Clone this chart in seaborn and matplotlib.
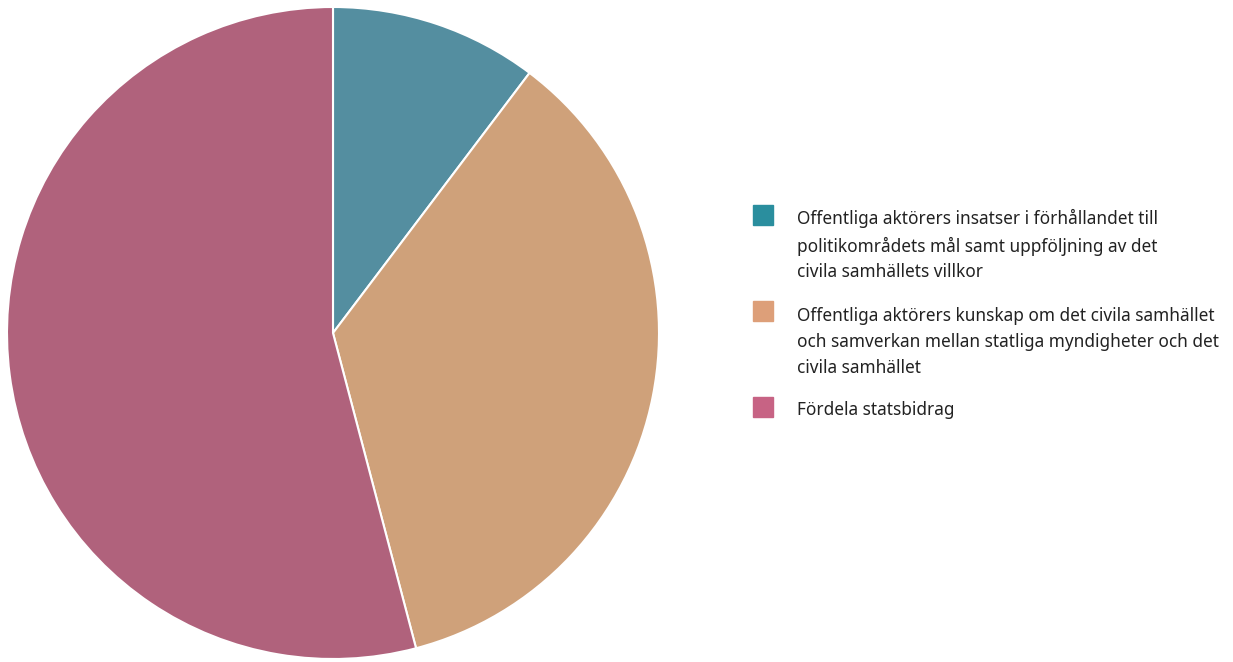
import matplotlib
matplotlib.use("Agg")
import matplotlib.pyplot as plt
import seaborn as sns
from matplotlib.patches import Rectangle

# data
labels = [
    "Offentliga aktörers insatser i förhållandet till\npolitikområdets mål samt uppföljning av det\ncivila samhällets villkor",
    "Offentliga aktörers kunskap om det civila samhället\noch samverkan mellan statliga myndigheter och det\ncivila samhället",
    "Fördela statsbidrag",
]
values = [10.3, 35.6, 54.1]
slice_colors = ["#548ea0", "#cfa17a", "#b0627c"]
legend_colors = ["#2a8e9e", "#dd9f79", "#c76384"]

sns.set_theme(style="white")
plt.rcParams['font.family'] = ['Noto Sans', 'DejaVu Sans']

W, H = 1233, 662
fig = plt.figure(figsize=(W / 100, H / 100), dpi=100)
ax = fig.add_axes([7 / W, 3 / H, 652 / W, 652 / H])
ax.pie(values, colors=slice_colors, startangle=90, counterclock=False,
       wedgeprops=dict(edgecolor="white", linewidth=1.5))
ax.set_xlim(-1, 1)
ax.set_ylim(-1, 1)
ax.set_aspect("equal")

# legend drawn by hand so the line spacing matches
box_tops = [205, 301, 397]
text_tops = [209, 307, 401]
for lab, col, bt, tt in zip(labels, legend_colors, box_tops, text_tops):
    fig.patches.append(Rectangle((753 / W, 1 - (bt + 20) / H), 20 / W, 20 / H,
                                 transform=fig.transFigure, color=col))
    fig.text(797 / W, 1 - tt / H, lab, ha="left", va="top",
             fontsize=12.4, color="#222222", linespacing=1.56)

fig.savefig("out.png", dpi=100)
